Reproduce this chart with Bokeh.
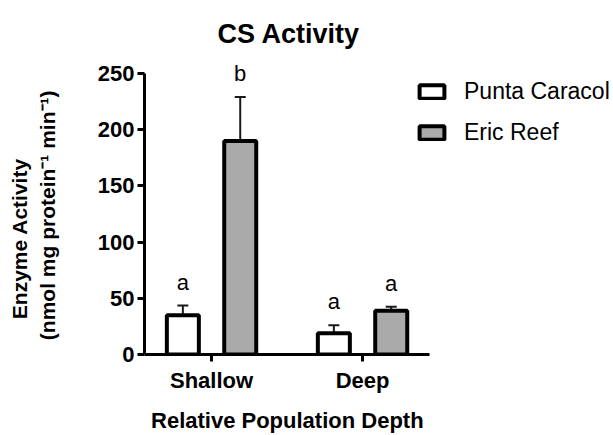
from bokeh.plotting import figure
from bokeh.models import (ColumnDataSource, Range1d, Whisker, TeeHead, LabelSet,
                          Legend, LegendItem, FixedTicker)
from bokeh.core.properties import value
from bokeh.transform import dodge
from bokeh.embed import file_html
from bokeh.resources import INLINE

# ---- data ----
categories = ["Shallow", "Deep"]
series = ["Punta Caracol", "Eric Reef"]
pc_mean = [35, 19]
pc_sem = [8.5, 7]
er_mean = [190, 39]
er_sem = [39, 3.5]
pc_letters = ["a", "a"]
er_letters = ["b", "a"]
y_ticks = [0, 50, 100, 150, 200, 250]
title_text = "CS Activity"
x_label = "Relative Population Depth"
y_label_1 = "Enzyme Activity"
y_label_2 = "(nmol mg protein\u207b\u00b9 min\u207b\u00b9)"

FONT = "Liberation Sans"
OFF = 0.19
BW = 0.212
NB = "\u00a0"

idx = list(range(len(categories)))
pc = ColumnDataSource(dict(x=idx, top=pc_mean,
                           upper=[m + s for m, s in zip(pc_mean, pc_sem)],
                           lower=[m - s for m, s in zip(pc_mean, pc_sem)],
                           letter=pc_letters))
er = ColumnDataSource(dict(x=idx, top=er_mean,
                           upper=[m + s for m, s in zip(er_mean, er_sem)],
                           lower=[m - s for m, s in zip(er_mean, er_sem)],
                           letter=er_letters))

p = figure(width=613, height=435, output_backend="svg", toolbar_location=None,
           x_range=Range1d(-0.444, 2.662), y_range=Range1d(0, 258),
           min_border_left=144, min_border_right=0, min_border_top=64, min_border_bottom=80,
           title=title_text)
p.outline_line_color = None
p.xgrid.visible = False
p.ygrid.visible = False
p.background_fill_color = "white"
p.border_fill_color = "white"

p.title.align = "left"
p.title.offset = 73
p.title.text_font = FONT
p.title.text_font_style = "bold"
p.title.text_font_size = "27px"
p.title.text_color = "black"
p.title.standoff = 32

r_pc = p.vbar(x=dodge("x", -OFF), top="top", bottom=0, width=BW, source=pc,
              fill_color="white", line_color="black", line_width=4)
r_er = p.vbar(x=dodge("x", OFF), top="top", bottom=0, width=BW, source=er,
              fill_color="#AAAAAA", line_color="black", line_width=4)

for src, off in ((pc, -OFF), (er, OFF)):
    w = Whisker(source=src, base=dodge("x", off), upper="upper", lower="lower",
                line_color="#1a1a1a", line_width=2,
                upper_head=TeeHead(size=11, line_width=2, line_color="#1a1a1a"),
                lower_head=TeeHead(size=11, line_width=2, line_color="#1a1a1a"))
    p.add_layout(w)
    ls = LabelSet(source=src, x=dodge("x", off), y="upper", text="letter",
                  y_offset=16, text_align="center", text_baseline="alphabetic",
                  text_font=value(FONT), text_font_size=value("22px"), text_color="black")
    p.add_layout(ls)

# axes
for ax in (p.xaxis[0], p.yaxis[0]):
    ax.axis_line_width = 3
    ax.axis_line_color = "black"
    ax.major_tick_line_width = 3
    ax.major_tick_line_color = "black"
    ax.major_tick_out = 7
    ax.major_tick_in = 0
    ax.minor_tick_line_color = None
    ax.major_label_text_font = FONT
    ax.major_label_text_font_style = "bold"
    ax.major_label_text_font_size = "22px"
    ax.major_label_text_color = "black"
    ax.axis_label_text_font = FONT
    ax.axis_label_text_font_style = "bold"
    ax.axis_label_text_color = "black"

p.yaxis[0].ticker = FixedTicker(ticks=y_ticks)
p.yaxis[0].bounds = (0, 250)
p.yaxis[0].major_label_standoff = 3
p.yaxis[0].axis_label = y_label_1 + NB * 10 + "\n" + y_label_2 + NB * 2
p.yaxis[0].axis_label_text_font_size = "21px"
p.yaxis[0].axis_label_standoff = 36

p.xaxis[0].ticker = FixedTicker(ticks=idx)
p.xaxis[0].bounds = (-0.444, 1.444)
p.xaxis[0].major_label_overrides = {i: c for i, c in zip(idx, categories)}
p.xaxis[0].major_label_standoff = 6
p.xaxis[0].axis_label = x_label + NB * 30
p.xaxis[0].axis_label_text_font_size = "22px"
p.xaxis[0].axis_label_standoff = 12

legend = Legend(items=[LegendItem(label=series[0], renderers=[r_pc]),
                       LegendItem(label=series[1], renderers=[r_er])],
                location=(272, 208), padding=0, margin=0, spacing=14,
                glyph_width=31, glyph_height=17, label_height=26, label_standoff=17,
                label_text_font=FONT, label_text_font_size="23px",
                label_text_color="black",
                label_text_baseline="middle", border_line_color=None,
                background_fill_alpha=0)
p.add_layout(legend, "center")

open("out.html", "w").write(file_html(p, INLINE))
